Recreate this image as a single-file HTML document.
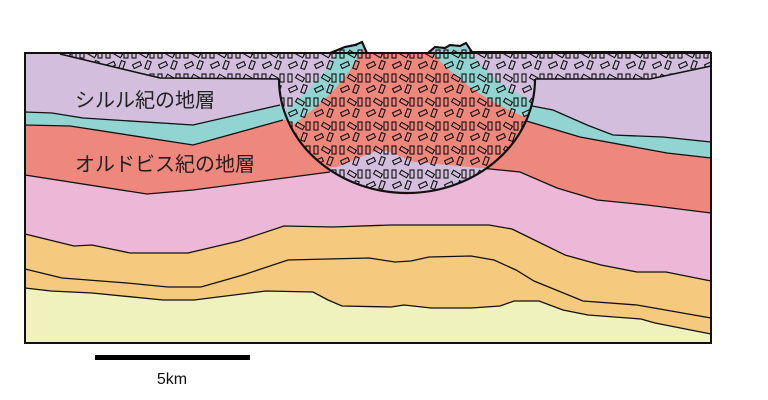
<!DOCTYPE html>
<html><head><meta charset="utf-8"><style>
html,body{margin:0;padding:0;background:#fff;width:768px;height:400px;overflow:hidden}
svg{display:block}
text{font-family:"Liberation Sans","Noto Sans CJK JP",sans-serif}
</style></head><body>
<svg width="768" height="400" viewBox="0 0 768 400" xmlns="http://www.w3.org/2000/svg">
<defs>
<pattern id="rk" width="26" height="24" patternUnits="userSpaceOnUse">
<g fill="none" stroke="#111" stroke-width="1.1">
<rect x="2" y="2" width="4" height="8"/>
<rect x="10" y="4" width="8" height="4" transform="rotate(30 14 6)"/>
<rect x="20" y="2" width="4" height="8"/>
<rect x="3" y="15" width="8" height="4" transform="rotate(-25 7 17)"/>
<rect x="16" y="13" width="4" height="8" transform="rotate(20 18 17)"/>
</g>
</pattern>
<clipPath id="crater"><path d="M279,79 A128,114 0 0 0 535,79 L535,53 L472,52 L466,43 L460,46 L450,45 L445,48 L435,47 L428,53 L367,53 L362,42 L355,45 L345,47 L330,53 L279,53 Z"/></clipPath>
<clipPath id="lens"><path d="M60,54 L160,78 L279,79 L279,53 Z M535,79 L650,79 L711,66 L711,53 L535,53 Z"/></clipPath>
</defs>

<rect x="25" y="53" width="686" height="290" fill="#f0f2bd"/>
<path d="M25,53 L711,53 L711,334 L655,323 L641,319 L588,315 L563,310 L539,301 L514,301 L500,306 L471,308 L431,308 L404,305 L391,307 L342,306 L328,300 L313,292 L266,291 L194,300 L163,300 L92,293 L51,291 L25,288 Z" fill="#f6ca7e"/>
<path d="M25,53 L711,53 L711,281 L666,272 L637,272 L601,265 L565,255 L512,229 L489,225 L391,225 L333,227 L284,226 L239,241 L188,253 L130,253 L92,245 L74,246 L25,234 Z" fill="#edb8d7"/>
<path d="M25,53 L711,53 L711,213 L647,205 L597,200 L557,188 L520,172 L480,168 L330,172 L193,190 L147,194 L25,175 Z" fill="#ef887c"/>
<path d="M25,53 L711,53 L711,158 L667,153 L580,137 L523,120 L283,120 L193,145 L70,126 L25,125 Z" fill="#92d4d1"/>
<path d="M25,53 L711,53 L711,142 L663,137 L613,135 L587,125 L553,110 L527,105 L280,105 L193,125 L83,118 L52,113 L25,112 Z" fill="#d3bedd"/>
<g fill="none" stroke="#111" stroke-width="1.3">
<path d="M25,288 L51,291 L92,293 L163,300 L194,300 L266,291 L313,292 L328,300 L342,306 L391,307 L404,305 L431,308 L471,308 L500,306 L514,301 L539,301 L563,310 L588,315 L641,319 L655,323 L711,334"/>
<path d="M25,269 L62,278 L127,283 L168,287 L201,287 L243,275 L288,260 L369,258 L395,262 L411,261 L429,257 L471,256 L494,260 L516,270 L534,281 L583,301 L637,305 L711,318"/>
<path d="M25,234 L74,246 L92,245 L130,253 L188,253 L239,241 L284,226 L333,227 L391,225 L489,225 L512,229 L565,255 L601,265 L637,272 L666,272 L711,281"/>
<path d="M25,175 L147,194 L193,190 L330,172 M480,168 L520,172 L557,188 L597,200 L647,205 L711,213"/>
<path d="M25,125 L70,126 L193,145 L283,120 M523,120 L580,137 L667,153 L711,158"/>
<path d="M25,112 L52,113 L83,118 L193,125 L280,105 M527,105 L553,110 L587,125 L613,135 L663,137 L711,142"/>
</g>
<g clip-path="url(#lens)">
<rect x="25" y="53" width="686" height="30" fill="#d3bedd"/>
<rect x="25" y="53" width="686" height="30" fill="url(#rk)"/>
</g>
<path d="M60,54 L160,78 L279,79 M535,79 L650,79 L711,66" fill="none" stroke="#111" stroke-width="1.5"/>

<g clip-path="url(#crater)">
<rect x="270" y="40" width="280" height="160" fill="#ef887c"/>
<path d="M270,40 L345,40 C330,70 305,95 285,112 L270,118 Z" fill="#d3bedd"/>
<path d="M345,40 L367,40 C350,80 320,105 293,125 L282,114 C305,95 330,70 345,40 Z" fill="#92d4d1"/>
<path d="M423,40 L462,40 C480,70 505,90 540,104 L540,122 C500,110 450,80 423,40 Z" fill="#92d4d1"/>
<path d="M462,40 L550,40 L550,104 L540,104 C505,90 480,70 462,40 Z" fill="#d3bedd"/>
<path d="M320,168 L337,167 C355,160 370,152 382,150 C395,152 405,160 415,162 L480,168 L540,168 L540,200 L300,200 Z" fill="#d3bedd"/>
<rect x="270" y="40" width="280" height="160" fill="url(#rk)"/>
</g>
<path d="M279,79 A128,114 0 0 0 535,79" fill="none" stroke="#111" stroke-width="2.2"/>
<path d="M25,53 L330,53 L345,47 L355,45 L362,42 L367,53 L428,53 L435,47 L445,48 L450,45 L460,46 L466,43 L472,52 L711,52" fill="none" stroke="#111" stroke-width="2"/>
<rect x="25" y="53" width="686" height="290" fill="none" stroke="#111" stroke-width="2"/>
<path d="M330,53 L345,47 L355,45 L362,42 L367,53 L428,53 L435,47 L445,48 L450,45 L460,46 L466,43 L472,52" fill="none" stroke="#111" stroke-width="2"/>

<text x="75" y="107" font-size="20" fill="#222">シルル紀の地層</text>
<text x="75" y="171" font-size="20" fill="#222">オルドビス紀の地層</text>
<rect x="95" y="355" width="155" height="5" fill="#000"/>
<text x="172" y="384" font-size="16" text-anchor="middle" fill="#111">5km</text>
</svg>
</body></html>
